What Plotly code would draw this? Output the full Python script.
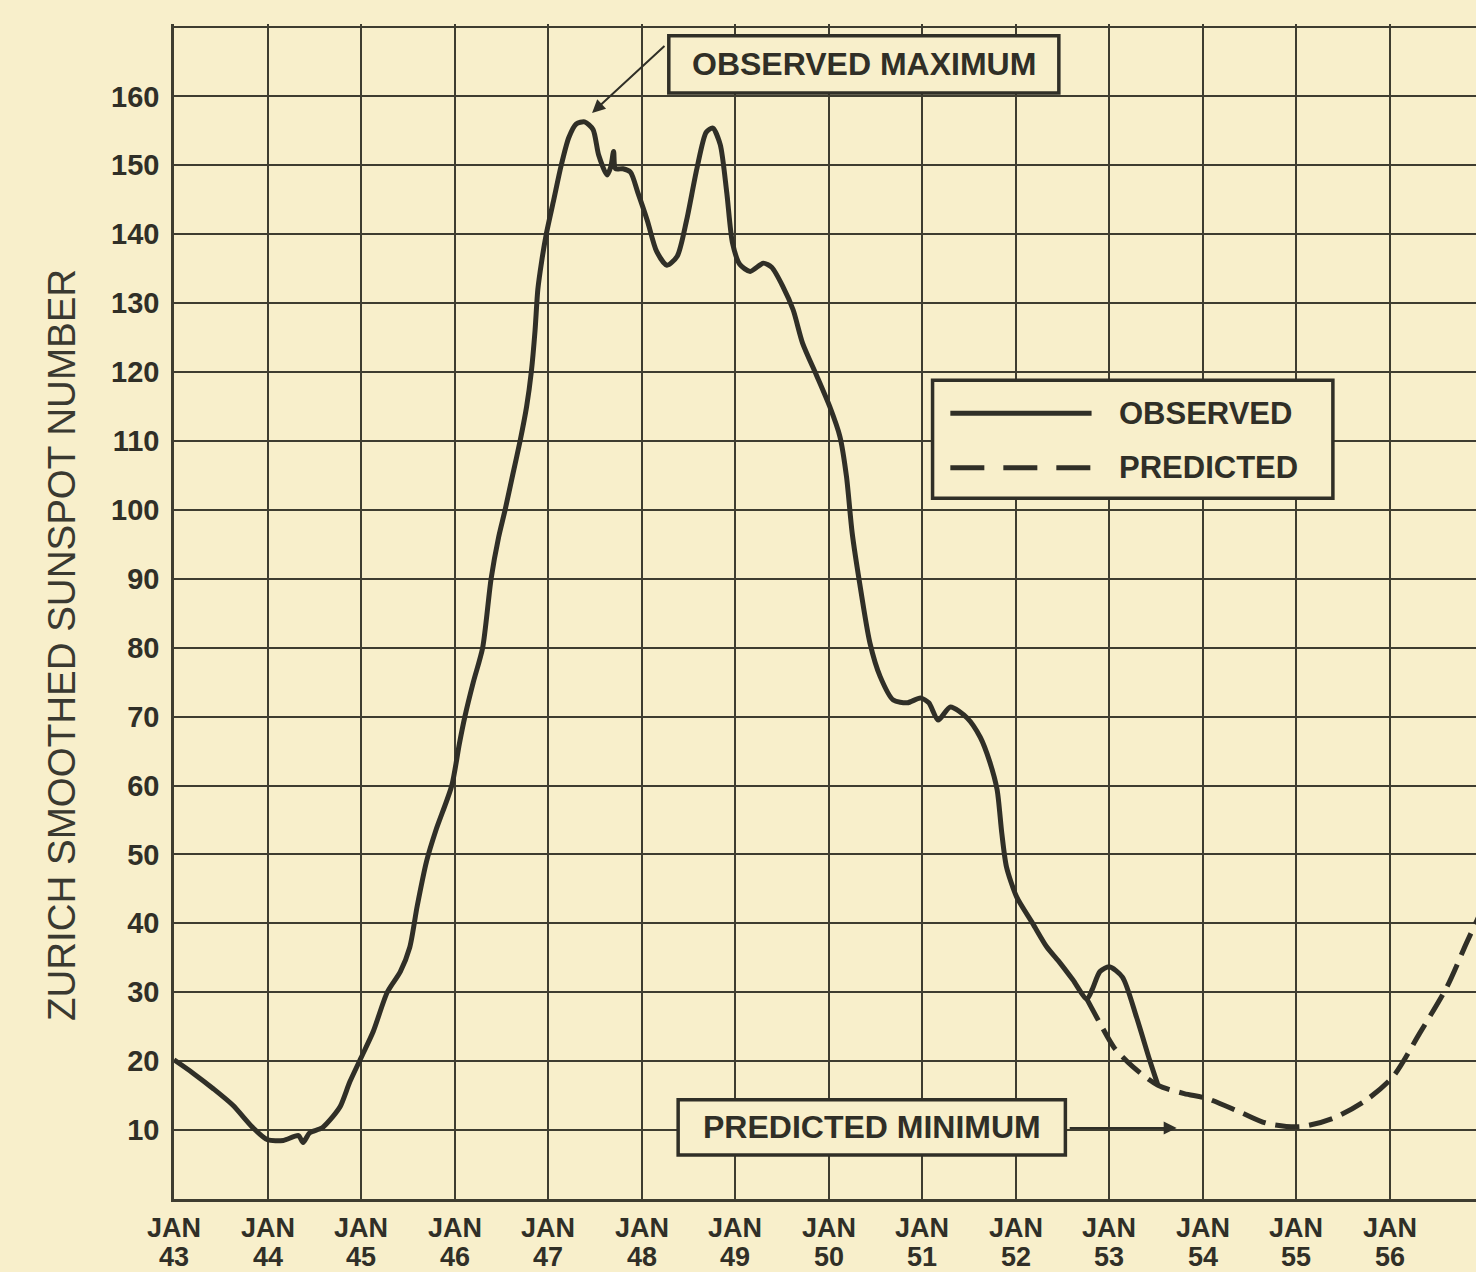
import plotly.graph_objects as go

# Smoothed sunspot number, observed (years as 19xx decimal, value)
obs_years = [43.00, 43.20, 43.42, 43.63, 43.84, 44.00, 44.17, 44.33, 44.38, 44.45,
             44.58, 44.70, 44.78, 44.88, 45.00, 45.13, 45.28, 45.42, 45.52, 45.60,
             45.70, 45.80, 45.97, 46.05, 46.11, 46.20, 46.30, 46.39, 46.47, 46.54,
             46.62, 46.70, 46.77, 46.82, 46.86, 46.89, 46.93, 46.98, 47.06, 47.14,
             47.22, 47.30, 47.39, 47.48,
             47.54, 47.63, 47.67, 47.70, 47.72, 47.80, 47.88, 47.96, 48.06, 48.16,
             48.27, 48.38, 48.48, 48.59, 48.69, 48.76, 48.84, 48.91, 48.97, 49.05,
             49.16, 49.30, 49.39, 49.51, 49.62, 49.72, 49.87, 50.01, 50.12, 50.19,
             50.25, 50.33, 50.44, 50.55, 50.69, 50.84, 50.98, 51.07, 51.17, 51.30,
             51.48, 51.62, 51.72, 51.80, 51.85, 51.90, 52.01, 52.18, 52.33, 52.47,
             52.61, 52.76, 52.82, 52.90, 53.00, 53.14, 53.29, 53.43, 53.52]
obs_values = [20.2, 18.3, 16.0, 13.6, 10.4, 8.6, 8.5, 9.2, 8.2, 9.6,
              10.3, 12.0, 13.5, 17.0, 20.5, 24.3, 30.0, 33.0, 36.5, 42.5,
              49.0, 53.5, 60.0, 66.0, 70.0, 75.0, 80.0, 90.0, 96.0, 100.0,
              105.0, 110.0, 115.0, 120.0, 126.0, 132.0, 136.0, 140.0, 145.0, 150.0,
              154.0, 156.0, 156.3, 155.2,
              151.5, 148.6, 149.8, 152.0, 149.5, 149.5, 149.0, 146.0, 142.0, 137.5,
              135.5, 136.8, 142.0, 149.5, 154.8, 155.4, 153.0, 146.0, 138.8, 135.6,
              134.6, 135.8, 135.2, 132.4, 129.0, 124.2, 119.5, 115.0, 110.6, 104.8,
              96.7, 89.4, 80.7, 75.8, 72.4, 72.0, 72.7, 72.0, 69.5, 71.4,
              69.8, 67.0, 63.5, 59.4, 53.1, 48.2, 43.8, 40.0, 36.6, 34.3,
              31.8, 29.0, 30.5, 33.0, 33.7, 32.2, 26.4, 20.2, 16.5]

# Predicted continuation
pred_years = [52.76, 52.90, 53.05, 53.25, 53.52, 53.80, 54.04, 54.40, 54.68, 55.04,
              55.39, 55.75, 56.03, 56.32, 56.61, 56.82, 56.95]
pred_values = [29.0, 25.5, 22.0, 19.2, 16.5, 15.3, 14.6, 12.6, 11.0, 10.5,
               11.7, 14.4, 17.7, 24.1, 30.8, 37.2, 41.0]

year_ticks = [43, 44, 45, 46, 47, 48, 49, 50, 51, 52, 53, 54, 55, 56]
year_labels = ["43", "44", "45", "46", "47", "48", "49", "50", "51", "52", "53", "54", "55", "56"]
month_label = "JAN"
value_ticks = [10, 20, 30, 40, 50, 60, 70, 80, 90, 100, 110, 120, 130, 140, 150, 160, 170]
value_labels = ["10", "20", "30", "40", "50", "60", "70", "80", "90", "100",
                "110", "120", "130", "140", "150", "160", ""]

PAPER = "#f8efcb"
INK = "#302f27"
GRID = "#3f3d30"
FONT = "Liberation Sans, Arial, sans-serif"

fig = go.Figure()

fig.add_trace(go.Scatter(
    x=obs_years, y=obs_values, mode="lines", name="OBSERVED",
    line=dict(color=INK, width=5, shape="spline", smoothing=0.7),
    showlegend=False, hoverinfo="skip"))

fig.add_trace(go.Scatter(
    x=pred_years, y=pred_values, mode="lines", name="PREDICTED",
    line=dict(color=INK, width=5, dash="24px,10px", shape="spline", smoothing=0.8),
    showlegend=False, hoverinfo="skip"))

shapes = []
annotations = []

# Boxed callouts
def callout(x0, x1, y0, y1, text, size):
    shapes.append(dict(type="rect", xref="x", yref="y", x0=x0, x1=x1, y0=y0, y1=y1,
                       line=dict(color=INK, width=3.5), fillcolor=PAPER, layer="above"))
    annotations.append(dict(x=(x0 + x1) / 2, y=(y0 + y1) / 2, xref="x", yref="y",
                            text=text, showarrow=False,
                            font=dict(family=FONT, size=size, color=INK, weight="bold")))

callout(48.29, 52.46, 160.5, 168.8, "OBSERVED MAXIMUM", 32)
callout(48.39, 52.53, 6.4, 14.4, "PREDICTED MINIMUM", 32)

# Arrows from the callouts
annotations.append(dict(x=47.47, y=157.6, ax=48.26, ay=167.5, xref="x", yref="y",
                        axref="x", ayref="y", text="", showarrow=True,
                        arrowhead=2, arrowsize=1.3, arrowwidth=2, arrowcolor=INK))
annotations.append(dict(x=53.72, y=10.3, ax=52.56, ay=10.3, xref="x", yref="y",
                        axref="x", ayref="y", text="", showarrow=True,
                        arrowhead=2, arrowsize=1.3, arrowwidth=2, arrowcolor=INK))

# Key box
shapes.append(dict(type="rect", xref="x", yref="y", x0=51.11, x1=55.39, y0=101.7, y1=118.8,
                   line=dict(color=INK, width=3.5), fillcolor=PAPER, layer="above"))
shapes.append(dict(type="line", xref="x", yref="y", x0=51.30, x1=52.81, y0=114.0, y1=114.0,
                   line=dict(color=INK, width=5), layer="above"))
shapes.append(dict(type="line", xref="x", yref="y", x0=51.30, x1=52.81, y0=106.1, y1=106.1,
                   line=dict(color=INK, width=5, dash="34px,19px"), layer="above"))
for label, yv in (("OBSERVED", 114.0), ("PREDICTED", 106.1)):
    annotations.append(dict(x=53.08, y=yv, xref="x", yref="y", xanchor="left",
                            text=label, showarrow=False,
                            font=dict(family=FONT, size=31, color=INK, weight="bold")))

# Two-line month / year labels under the axis
for yr, lab in zip(year_ticks, year_labels):
    annotations.append(dict(x=yr, y=-0.0247, xref="x", yref="paper", yanchor="middle",
                            text=month_label, showarrow=False,
                            font=dict(family=FONT, size=27, color=INK, weight="bold")))
    annotations.append(dict(x=yr, y=-0.0494, xref="x", yref="paper", yanchor="middle",
                            text=lab, showarrow=False,
                            font=dict(family=FONT, size=27, color=INK, weight="bold")))

# Vertical axis title
annotations.append(dict(x=-0.104, y=0.4715, xref="paper", yref="paper",
                        text="ZURICH SMOOTHED SUNSPOT NUMBER", textangle=-90,
                        showarrow=False,
                        font=dict(family=FONT, size=38.5, color="#3a3930")))

fig.update_layout(
    width=1476, height=1272, autosize=False,
    margin=dict(l=174, r=0, t=24, b=73, pad=0),
    paper_bgcolor=PAPER, plot_bgcolor=PAPER,
    shapes=shapes, annotations=annotations,
    showlegend=False,
    xaxis=dict(range=[43, 56.92], tickvals=year_ticks, showticklabels=False,
               showgrid=True, gridcolor=GRID, gridwidth=2.2,
               showline=True, linecolor=GRID, linewidth=2.5,
               zeroline=False, ticks=""),
    yaxis=dict(range=[0, 170.5], tickvals=value_ticks, ticktext=value_labels,
               showgrid=True, gridcolor=GRID, gridwidth=2.2,
               showline=True, linecolor=GRID, linewidth=2.5,
               zeroline=False, ticks="", ticklabelstandoff=6,
               tickfont=dict(family=FONT, size=29, color=INK, weight="bold")),
)

fig.write_html("out.html")
